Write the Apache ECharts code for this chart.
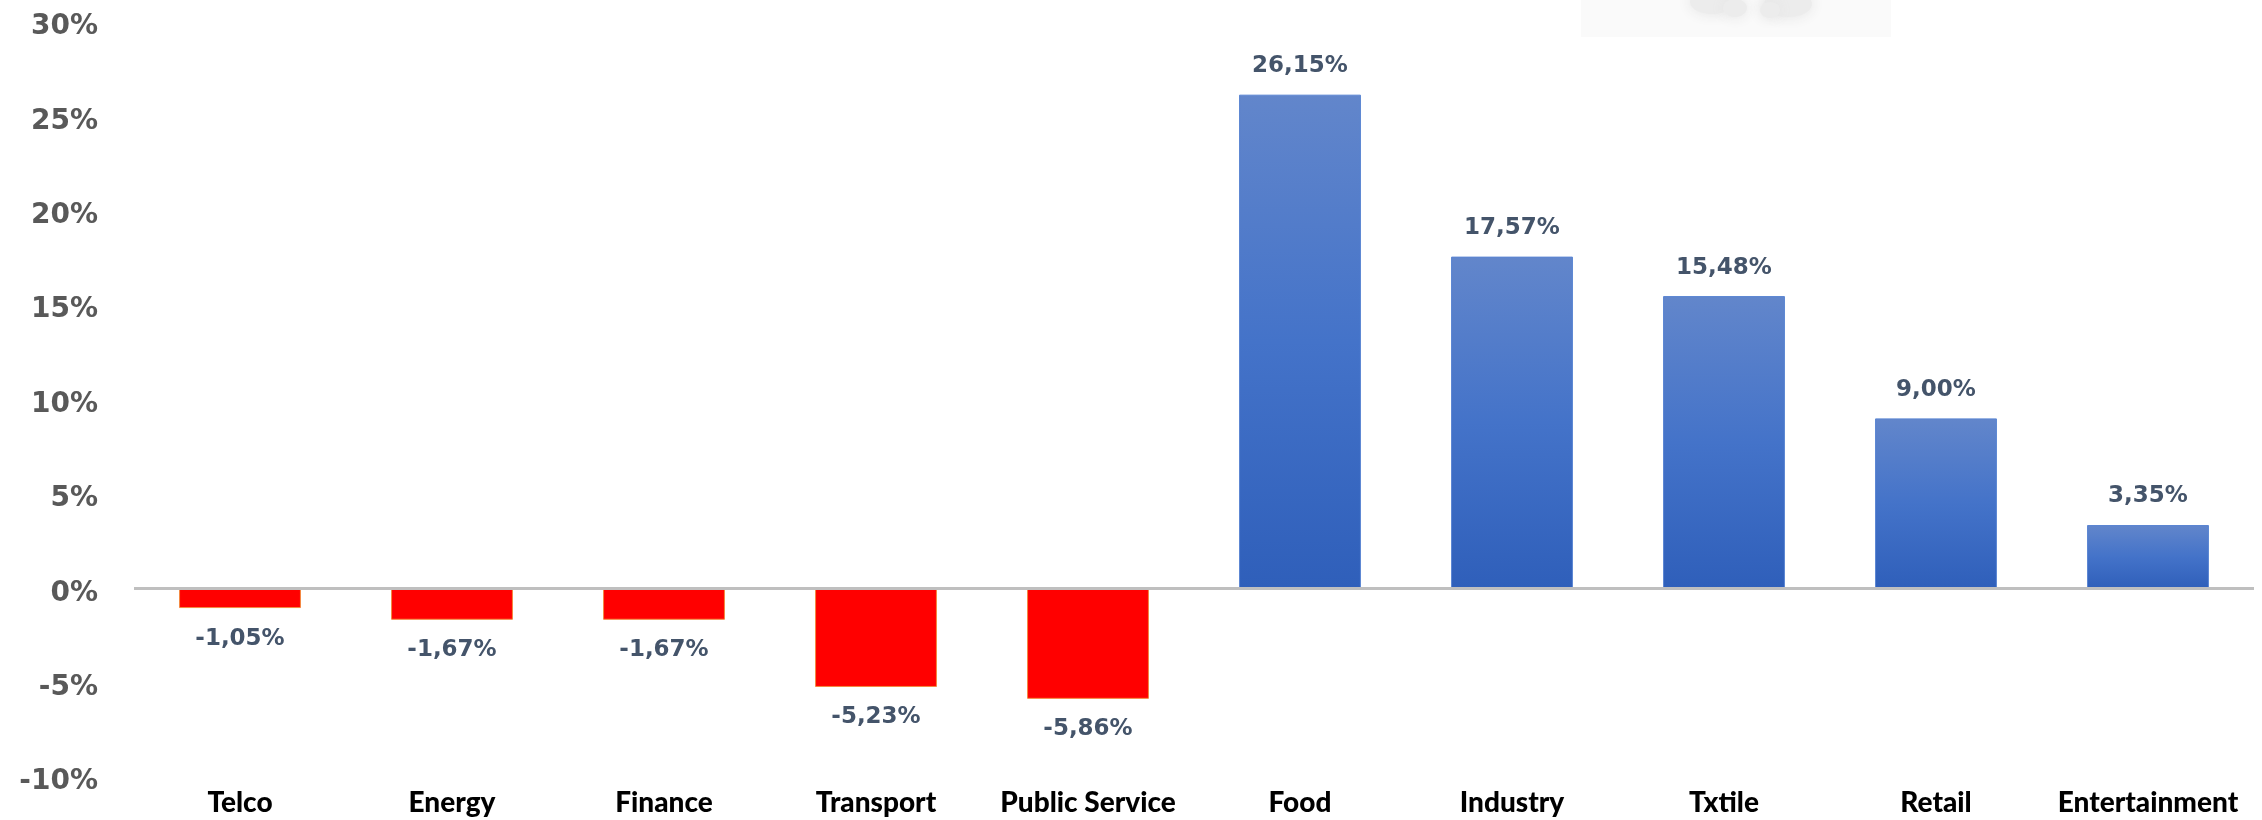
<!DOCTYPE html>
<html>
<head>
<meta charset="utf-8">
<script src="https://cdn.jsdelivr.net/npm/echarts@6/dist/echarts.min.js"></script>
<style>
    html, body {
        margin: 0;
        padding: 0;
        background: #ffffff;
    }
    #chart {
        width: 2262px;
        height: 820px;
    }
</style>
</head>
<body>
<div id="chart"></div>
<script>
// 数据
const sectors = ['Telco', 'Energy', 'Finance', 'Transport', 'Public Service', 'Food', 'Industry', 'Txtile', 'Retail', 'Entertainment']
const change = [-1.05, -1.67, -1.67, -5.23, -5.86, 26.15, 17.57, 15.48, 9.00, 3.35]
const yTicks = { min: -10, max: 30, step: 5 }

const myChart = echarts.init(document.getElementById('chart'))
window.onresize = function () {
    myChart.resize();
};

const blueFill = new echarts.graphic.LinearGradient(0, 0, 0, 1, [
    { offset: 0, color: '#6286cb' },
    { offset: 0.5, color: '#4473c9' },
    { offset: 1, color: '#2f5fba' }
])

// 正负分别上色、标签上下
const barData = change.map(v => {
    const neg = v < 0
    return {
        value: v,
        itemStyle: neg
            ? { color: '#ff0000', borderColor: '#f4893f', borderWidth: 1 }
            : { color: blueFill, borderColor: '#5a85d2', borderWidth: 1 },
        label: neg
            ? { position: 'bottom', distance: 19 }
            : { position: 'top', distance: 17 }
    }
})

// 右上角的浅灰水印
const cloud = (cx, cy, rx, ry) => ({
    type: 'ellipse',
    shape: { cx: cx, cy: cy, rx: rx, ry: ry },
    style: { fill: '#ececec', shadowBlur: 14, shadowColor: '#e4e4e4' },
    silent: true
})

myChart.setOption({
    animation: false,
    backgroundColor: '#ffffff',
    grid: {
        left: 134,
        right: 8,
        top: 22,
        bottom: 43,
        containLabel: false,
        outerBoundsMode: 'none'
    },
    graphic: [
        {
            type: 'rect',
            shape: { x: 1581, y: 0, width: 310, height: 37 },
            style: { fill: '#fafafa' },
            silent: true
        },
        cloud(1712, 2, 22, 12),
        cloud(1735, 8, 12, 9),
        cloud(1788, 4, 24, 13),
        cloud(1770, 10, 10, 8)
    ],
    xAxis: {
        type: 'category',
        data: sectors,
        position: 'bottom',
        axisLine: { show: false, onZero: false },
        axisTick: { show: false },
        splitLine: { show: false },
        axisLabel: {
            interval: 0,
            margin: 12,
            color: '#000000',
            fontFamily: 'Lato',
            fontWeight: 900,
            fontSize: 28
        }
    },
    yAxis: {
        type: 'value',
        min: yTicks.min,
        max: yTicks.max,
        interval: yTicks.step,
        axisLine: { show: false },
        axisTick: { show: false },
        splitLine: { show: false },
        axisLabel: {
            margin: 36,
            formatter: (v) => '{p|' + v + '%}',
            rich: {
                p: {
                    padding: [10, 0, 0, 0],
                    color: '#595959',
                    fontFamily: 'DejaVu Sans',
                    fontWeight: 'bold',
                    fontSize: 28
                }
            }
        }
    },
    series: [
        {
            type: 'bar',
            data: barData,
            barWidth: '57.5%',
            label: {
                show: true,
                formatter: (p) => p.value.toFixed(2).replace('.', ',') + '%',
                color: '#44546a',
                fontFamily: 'DejaVu Sans',
                fontWeight: 'bold',
                fontSize: 23
            },
            // 0% 基线
            markLine: {
                silent: true,
                symbol: 'none',
                label: { show: false },
                lineStyle: { color: '#bfbfbf', width: 3, type: 'solid' },
                data: [{ yAxis: 0 }]
            }
        }
    ]
})
</script>
</body>
</html>
